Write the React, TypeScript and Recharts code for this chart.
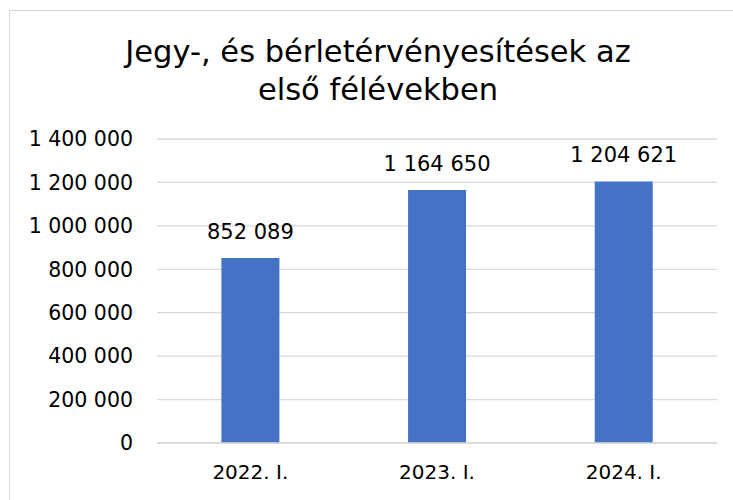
import React from 'react';
import { BarChart, Bar, XAxis, YAxis, CartesianGrid, LabelList } from 'recharts';

const categories = ['2022. I.', '2023. I.', '2024. I.'];
const values = [852089, 1164650, 1204621];
const yTicks = [0, 200000, 400000, 600000, 800000, 1000000, 1200000, 1400000];
const titleLines = ['Jegy-, és bérletérvényesítések az', 'első félévekben'];

const data = categories.map((c, i) => ({ name: c, value: values[i] }));

const fmt = (v: number) => String(v).replace(/\B(?=(\d{3})+(?!\d))/g, '\u00a0');

const FONT = '"DejaVu Sans", sans-serif';

export default function App() {
  return (
    <div style={{ position: 'absolute', left: 0, top: 0, width: 733, height: 500, overflow: 'hidden', background: '#fff' }}>
      <div style={{ position: 'absolute', left: 9, top: 10, width: 800, height: 600, border: '1px solid #d9d9d9', boxSizing: 'border-box' }} />
      <div style={{ position: 'absolute', left: 0, top: 0 }}>
        <BarChart width={733} height={500} data={data} margin={{ top: 139, right: 16, bottom: 27, left: 0 }} barCategoryGap="34.5%">
          <CartesianGrid vertical={false} stroke="#d9d9d9" strokeWidth={1.3} />
          <XAxis dataKey="name" height={30} tickLine={false} axisLine={{ stroke: '#d9d9d9', strokeWidth: 1.3 }} tickMargin={16}
            tick={{ fill: '#000', fontSize: 20, fontFamily: FONT }} />
          <YAxis width={157} domain={[0, 1400000]} ticks={yTicks} tickLine={false} axisLine={false} tickMargin={18}
            tickFormatter={fmt} tick={{ fill: '#000', fontSize: 20.5, fontFamily: FONT }} interval={0} />
          <Bar dataKey="value" fill="#4472C4" isAnimationActive={false}>
            <LabelList dataKey="value" position="top" offset={19} formatter={(v: any) => fmt(Number(v))}
              style={{ fill: '#000', fontSize: 21, fontFamily: FONT }} />
          </Bar>
        </BarChart>
      </div>
      <div style={{ position: 'absolute', left: 0, top: 33, width: 756, textAlign: 'center', fontFamily: FONT, fontSize: 30.5, lineHeight: '38px', color: '#000' }}>
        {titleLines.map((t, i) => <div key={i}>{t}</div>)}
      </div>
    </div>
  );
}
